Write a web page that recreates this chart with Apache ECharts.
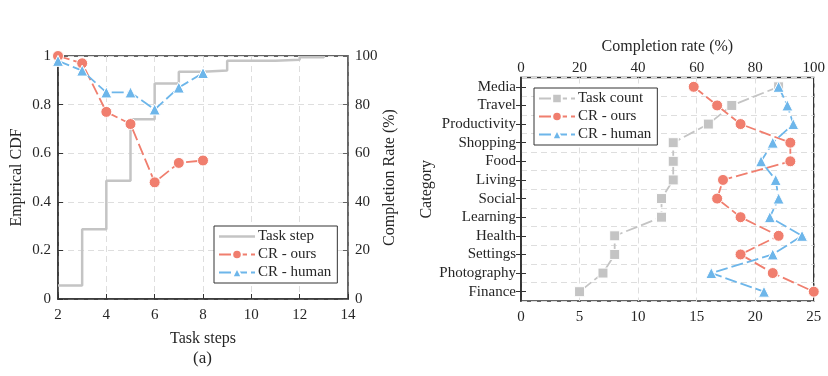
<!DOCTYPE html>
<html>
<head>
<meta charset="utf-8">
<script src="https://cdn.jsdelivr.net/npm/echarts@6/dist/echarts.min.js"></script>
<style>
  html, body { margin: 0; padding: 0; background: #fff; }
  #chart { width: 828px; height: 376px; }
</style>
</head>
<body>
<div id="chart"></div>
<script>
// ---- left panel (a) ----
const stepX = [2, 3, 4, 5, 6, 7, 8, 9, 11, 12, 13]
const stepCdf = [0.056, 0.287, 0.487, 0.74, 0.887, 0.935, 0.94, 0.98, 0.985, 0.995, 1]
const crSteps = [2, 3, 4, 5, 6, 7, 8]
const crOursA = [100, 97, 77, 72, 48, 56, 57]
const crHumanA = [98, 94, 85, 85, 78, 87, 93]

// ---- right panel ----
const categories = ['Media', 'Travel', 'Productivity', 'Shopping', 'Food', 'Living',
  'Social', 'Learning', 'Health', 'Settings', 'Photography', 'Finance']
const taskCount = [22, 18, 16, 13, 13, 13, 12, 12, 8, 8, 7, 5]
const crOursB = [59, 67, 75, 92, 92, 69, 67, 75, 88, 75, 86, 100]
const crHumanB = [88, 91, 93, 86, 82, 87, 88, 85, 96, 86, 65, 83]

const FONT = 'Liberation Serif'
const GRAY = '#c4c4c4'
const RED = '#f07e6e'
const BLUE = '#6db6ea'
const TXT = '#262626'
const DASH = [12, 4]

const gridLine = { show: true, lineStyle: { type: [6, 4], color: '#dedede', width: 1 } }
const lbl = { fontFamily: FONT, fontSize: 15, color: TXT }
const nameStyle = { fontFamily: FONT, fontSize: 16, color: TXT }

function pairs(xs, ys) { return xs.map((x, i) => [x, ys[i]]) }

const legendBase = {
  orient: 'vertical',
  itemWidth: 36, itemHeight: 12, itemGap: 3,
  padding: [3, 6, 3, 4],
  borderColor: '#333', borderWidth: 1, backgroundColor: '#fff',
  textStyle: { fontFamily: FONT, fontSize: 15, color: TXT, padding: [0, 0, 0, -2] }
}

const chart = echarts.init(document.getElementById('chart'))
chart.setOption({
  animation: false,
  textStyle: { fontFamily: FONT },
  graphic: [{
    type: 'text', left: 193, top: 350,
    style: { text: '(a)', font: '17px "Liberation Serif"', fill: TXT }
  }],
  legend: [Object.assign({
    data: [{ name: 'Task step', icon: 'path://M0,0H36V2.5H0Z' }, 'CR - ours', 'CR - human'],
    left: 214, top: 226
  }, legendBase), Object.assign({
    data: ['Task count', 'CR - ours', 'CR - human'],
    left: 534, top: 88
  }, legendBase)],
  grid: [
    { left: 58, right: 480, top: 56, bottom: 77, show: true, borderColor: '#333', borderWidth: 1.5 },
    { left: 521, right: 12, top: 77.5, bottom: 75, show: true, borderColor: '#333', borderWidth: 1.5 }
  ],
  xAxis: [{
    gridIndex: 0, type: 'value', min: 2, max: 14, interval: 2,
    name: 'Task steps', nameLocation: 'middle', nameGap: 32, nameTextStyle: nameStyle,
    axisLine: { lineStyle: { color: '#333', width: 1.5 } },
    axisTick: { inside: true, length: 5, lineStyle: { color: '#333' } },
    axisLabel: Object.assign({ margin: 9 }, lbl),
    splitLine: gridLine
  }, {
    gridIndex: 1, type: 'value', position: 'top', min: 0, max: 100, interval: 20,
    name: 'Completion rate (%)', nameLocation: 'middle', nameGap: 23, nameTextStyle: nameStyle,
    axisLine: { lineStyle: { color: '#333', width: 1.5 } },
    axisTick: { inside: true, length: 5, lineStyle: { color: '#333' } },
    axisLabel: Object.assign({ margin: 2 }, lbl),
    splitLine: gridLine
  }, {
    gridIndex: 1, type: 'value', position: 'bottom', min: 0, max: 25, interval: 5,
    axisLine: { lineStyle: { color: '#333', width: 1.5 } },
    axisTick: { inside: true, length: 5, lineStyle: { color: '#333' } },
    axisLabel: Object.assign({ margin: 9 }, lbl),
    splitLine: { show: false }
  }],
  yAxis: [{
    gridIndex: 0, type: 'value', min: 0, max: 1, interval: 0.2,
    name: 'Empirical CDF', nameLocation: 'middle', nameGap: 33, nameRotate: 90, nameTextStyle: nameStyle,
    axisLine: { show: true, lineStyle: { color: '#333', width: 1.5 } },
    axisTick: { show: true, inside: true, length: 5, lineStyle: { color: '#333' } },
    axisLabel: Object.assign({ margin: 7 }, lbl),
    splitLine: gridLine
  }, {
    gridIndex: 0, type: 'value', position: 'right', min: 0, max: 100, interval: 20,
    name: 'Completion Rate (%)', nameLocation: 'middle', nameGap: 31, nameRotate: 90, nameTextStyle: nameStyle,
    axisLine: { show: true, lineStyle: { color: '#666', width: 1.5 } },
    axisTick: { show: true, inside: true, length: 5, lineStyle: { color: '#666' } },
    axisLabel: Object.assign({ margin: 7 }, lbl),
    splitLine: { show: false }
  }, {
    gridIndex: 1, type: 'category', data: categories, inverse: true,
    name: 'Category', nameLocation: 'middle', nameGap: 86, nameRotate: 90, nameTextStyle: nameStyle,
    axisLine: { show: true, lineStyle: { color: '#333', width: 1.5 } },
    axisTick: { show: true, inside: true, length: 5, alignWithLabel: true, lineStyle: { color: '#333' } },
    axisLabel: Object.assign({ margin: 5, interval: 0 }, lbl),
    splitLine: { show: true, interval: 0, lineStyle: { type: [6, 4], color: '#dedede' } }
  }, {
    gridIndex: 1, type: 'category', data: categories, inverse: true, position: 'right',
    axisLine: { show: true, lineStyle: { color: '#333', width: 1.5 } },
    axisTick: { show: true, inside: true, length: 5, alignWithLabel: true, lineStyle: { color: '#333' } },
    axisLabel: { show: false },
    splitLine: { show: false }
  }],
  series: [{
    name: 'Task step', type: 'line', xAxisIndex: 0, yAxisIndex: 0,
    step: 'end', symbol: 'none',
    data: pairs(stepX, stepCdf),
    lineStyle: { color: GRAY, width: 2.5 }, itemStyle: { color: GRAY }
  }, {
    name: 'CR - ours', type: 'line', xAxisIndex: 0, yAxisIndex: 1,
    symbol: 'circle', symbolSize: 11,
    data: pairs(crSteps, crOursA),
    lineStyle: { color: RED, width: 1.8, type: DASH },
    itemStyle: { color: RED, borderColor: '#fff', borderWidth: 1 }
  }, {
    name: 'CR - human', type: 'line', xAxisIndex: 0, yAxisIndex: 1,
    symbol: 'triangle', symbolSize: 11,
    data: pairs(crSteps, crHumanA),
    lineStyle: { color: BLUE, width: 1.8, type: DASH },
    itemStyle: { color: BLUE, borderColor: '#fff', borderWidth: 1 }
  }, {
    name: 'Task count', type: 'line', xAxisIndex: 2, yAxisIndex: 2,
    symbol: 'rect', symbolSize: 10,
    data: categories.map((c, i) => [taskCount[i], c]),
    lineStyle: { color: GRAY, width: 1.8, type: DASH },
    itemStyle: { color: GRAY, borderColor: '#fff', borderWidth: 1 }
  }, {
    name: 'CR - ours', type: 'line', xAxisIndex: 1, yAxisIndex: 2,
    symbol: 'circle', symbolSize: 11,
    data: categories.map((c, i) => [crOursB[i], c]),
    lineStyle: { color: RED, width: 1.8, type: DASH },
    itemStyle: { color: RED, borderColor: '#fff', borderWidth: 1 }
  }, {
    name: 'CR - human', type: 'line', xAxisIndex: 1, yAxisIndex: 2,
    symbol: 'triangle', symbolSize: 11,
    data: categories.map((c, i) => [crHumanB[i], c]),
    lineStyle: { color: BLUE, width: 1.8, type: DASH },
    itemStyle: { color: BLUE, borderColor: '#fff', borderWidth: 1 }
  }]
})
</script>
</body>
</html>
